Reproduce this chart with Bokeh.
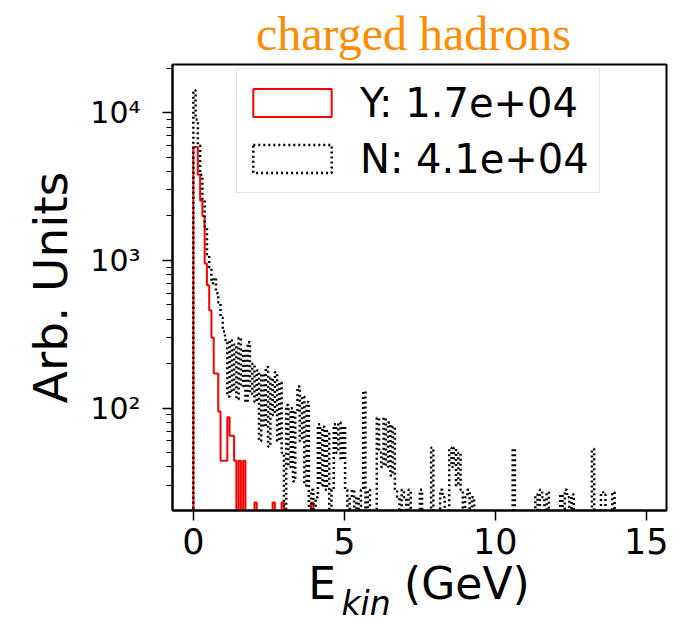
from bokeh.plotting import figure
from bokeh.models import Range1d, FixedTicker, Legend, LegendItem, LinearAxis
from bokeh.embed import file_html
from bokeh.resources import INLINE

# ---------------- data ----------------
BIN_W = 0.075          # GeV per histogram bin
N_BINS_TOTAL = 200

# Y histogram (red): bin index -> weighted content
y_bins = [0, 1, 2, 3, 4, 5, 6, 7, 8, 9, 10, 11, 12, 13, 14, 15, 16, 17, 18, 20, 22, 27, 35, 39, 52]
y_vals = [5850, 5850, 3800, 2550, 2000, 955, 680, 460, 300, 172, 172, 95, 44, 44, 44, 87, 65, 65,
          44, 44, 44, 23, 23, 23, 23]

# N histogram (black dotted): bin index -> weighted content
n_bins = [0, 1, 2, 3, 4, 5, 6, 7, 8, 9, 10, 11, 12, 13, 14,
          15, 16, 17, 18, 19, 20, 21, 22, 23, 24, 25, 26, 27,
          28, 29, 30, 31, 32, 33, 34, 35, 36, 37, 38, 39,
          41, 42, 43, 44, 45, 46, 47, 48, 49, 50,
          52, 54, 55, 56, 57, 58, 59, 61, 62, 63, 64, 65, 66,
          67, 69, 70, 72, 74, 75, 77, 81, 82, 83, 84, 85, 86, 87, 88, 89, 90, 92, 93, 95,
          100, 105, 109, 110, 113, 114, 115, 116, 117, 118, 120, 121, 123,
          141, 151, 153, 154, 156, 162, 164, 165, 167, 176, 180, 181, 185]
n_vals = [14200, 9000, 6000, 3800, 2550, 1700, 1100, 900, 700, 760, 600, 520, 410, 330, 290,
          120, 290, 130, 270, 115, 300, 140, 250, 110, 280, 125, 200, 110,
          180, 60, 170, 75, 190, 55, 160, 90, 175, 60, 150, 50,
          105, 40, 100, 32, 95, 140, 60, 120, 30, 110,
          28, 25, 78, 30, 75, 28, 70, 28, 78, 50, 80, 45, 75,
          28, 25, 28, 25, 28, 130, 28, 86, 50, 40, 86, 40, 80, 35, 75, 28, 25, 28, 25, 28,
          28, 54, 28, 25, 54, 40, 54, 30, 50, 28, 25, 28, 25,
          53, 26, 28, 25, 27, 26, 28, 25, 26, 53, 27, 26, 27]

x_ticks = [0, 5, 10, 15]
y_ticks = [100, 1000, 10000]
y_tick_labels = ["10²", "10³", "10⁴"]
y_minor_ticks = [20, 30, 40, 50, 60, 70, 80, 90,
                 200, 300, 400, 500, 600, 700, 800, 900,
                 2000, 3000, 4000, 5000, 6000, 7000, 8000, 9000, 20000]
legend_labels = ["Y: 1.7e+04", "N: 4.1e+04"]
title_text = "charged hadrons"
y_label = "Arb. Units"
x_label_main = ["E", "(GeV)"]     # E_kin (GeV), set in pieces
x_label_sub = ["kin"]

X_START, X_END = -0.69, 15.67
Y_START, Y_END = 20.3, 21200
FLOOR = 1.0   # stand-in for empty bins on the log axis (below the visible range)

# where the title and the pieces of the x-axis title sit, in axis units
TITLE_AT = [7.29]
X_LABEL_MAIN_AT = [4.27, 9.06]
X_LABEL_SUB_AT = [5.72]


def outline(bins, vals):
    dense = [0.0] * N_BINS_TOTAL
    for b, v in zip(bins, vals):
        dense[b] = v
    last = max(bins) + 1
    xs, ys = [0.0], [FLOOR]
    for i in range(last):
        v = dense[i] if dense[i] > 0 else FLOOR
        xs += [i * BIN_W, (i + 1) * BIN_W]
        ys += [v, v]
    xs.append(last * BIN_W)
    ys.append(FLOOR)
    return xs, ys


p = figure(frame_width=494, frame_height=446,
           x_range=Range1d(X_START, X_END), y_range=Range1d(Y_START, Y_END),
           y_axis_type="log", output_backend="svg", toolbar_location=None,
           min_border_left=172, min_border_right=9, min_border_top=64, min_border_bottom=117)
p.background_fill_color = "white"
p.border_fill_color = "white"
p.grid.visible = False
p.outline_line_color = "black"
p.outline_line_width = 2

xs_y, ys_y = outline(y_bins, y_vals)
xs_n, ys_n = outline(n_bins, n_vals)
r_y = p.patch(xs_y, ys_y, fill_color=None, line_color="red", line_width=2)
r_n = p.patch(xs_n, ys_n, fill_color=None, line_color="black", line_width=2.5,
              line_dash="2 3")

# axes
p.xaxis.ticker = FixedTicker(ticks=x_ticks)
p.yaxis.ticker = FixedTicker(ticks=y_ticks, minor_ticks=y_minor_ticks)
p.yaxis.major_label_overrides = {t: l for t, l in zip(y_ticks, y_tick_labels)}
for ax in (p.xaxis, p.yaxis):
    ax.axis_line_color = "black"
    ax.axis_line_width = 2
    ax.major_tick_line_color = "black"
    ax.major_tick_line_width = 1.5
    ax.major_tick_out = 10
    ax.major_tick_in = 0
    ax.minor_tick_line_color = "black"
    ax.minor_tick_line_width = 1.2
    ax.minor_tick_out = 6
    ax.minor_tick_in = 0
    ax.major_label_text_font = "DejaVu Sans"
    ax.major_label_text_color = "black"
p.xaxis.major_label_text_font_size = "35px"
p.yaxis.major_label_text_font_size = "30px"
p.xaxis.minor_tick_line_color = None
p.xaxis.major_label_standoff = 7
p.yaxis.major_label_standoff = 22
p.yaxis.axis_label = y_label
p.yaxis.axis_label_text_font = "DejaVu Sans"
p.yaxis.axis_label_text_font_size = "47px"
p.yaxis.axis_label_text_font_style = "normal"
p.yaxis.axis_label_text_color = "black"
p.yaxis.axis_label_standoff = 9


def label_axis(side, positions, texts, font, size, style, color, standoff):
    ax = LinearAxis(ticker=FixedTicker(ticks=positions),
                    major_label_overrides={t: s for t, s in zip(positions, texts)},
                    axis_line_color=None, major_tick_line_color=None,
                    minor_tick_line_color=None, major_tick_out=0, major_tick_in=0,
                    major_label_standoff=standoff,
                    major_label_text_font=font,
                    major_label_text_font_size=size,
                    major_label_text_font_style=style,
                    major_label_text_color=color)
    p.add_layout(ax, side)
    return ax


# title (orange, serif) above the frame
label_axis("above", TITLE_AT, [title_text], "Liberation Serif", "48px", "normal", "#FF8C00", 5)
# x-axis title: E, subscript kin, (GeV)
label_axis("below", X_LABEL_MAIN_AT, x_label_main, "DejaVu Sans", "44px", "normal", "black", 1)
label_axis("below", X_LABEL_SUB_AT, x_label_sub, "DejaVu Sans", "33px", "italic", "black", -28)

legend = Legend(items=[LegendItem(label=legend_labels[0], renderers=[r_y]),
                       LegendItem(label=legend_labels[1], renderers=[r_n])],
                location=(64, 317), margin=0, padding=6, spacing=1,
                glyph_width=98, glyph_height=35, label_standoff=19,
                label_width=233, label_height=55,
                label_text_font="DejaVu Sans", label_text_font_size="40px",
                label_text_color="black",
                border_line_color="#cccccc", border_line_width=1.5,
                background_fill_color="white", background_fill_alpha=0.8)
p.add_layout(legend)

open("out.html", "w").write(file_html(p, INLINE))
